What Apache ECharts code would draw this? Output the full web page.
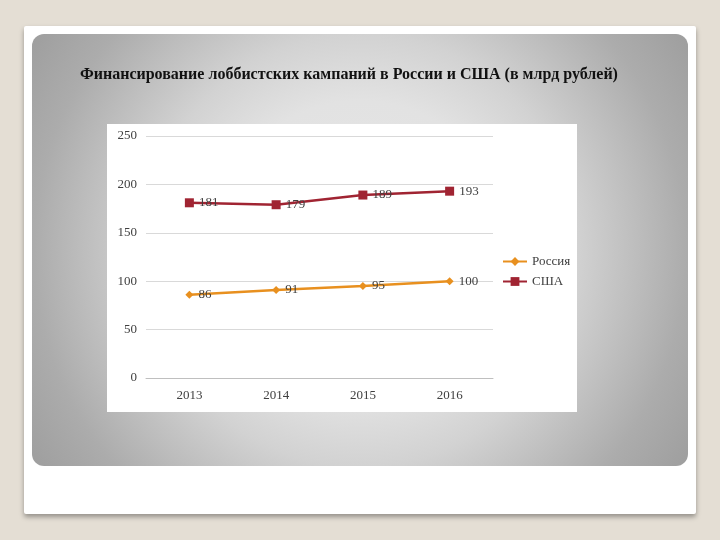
<!DOCTYPE html>
<html><head><meta charset="utf-8">
<script src="https://cdn.jsdelivr.net/npm/echarts@6/dist/echarts.min.js"></script>
<style>html,body{margin:0;padding:0;background:#e4ded4;}#c{width:720px;height:540px;}</style>
</head><body><div id="c"></div>
<script>
const titleText = 'Финансирование лоббистских кампаний в России и США (в млрд рублей)';
const years = ['2013', '2014', '2015', '2016'];
const russia = [86, 91, 95, 100];
const usa = [181, 179, 189, 193];
const seriesNames = ['Россия', 'США'];

const serif = '"Liberation Serif", "Times New Roman", serif';
const chart = echarts.init(document.getElementById('c'), null, {renderer: 'canvas'});
chart.setOption({
  backgroundColor: '#e4ded4',
  animation: false,
  title: {
    text: titleText,
    left: 75, top: 62,
    textStyle: {fontFamily: serif, fontWeight: 'bold', fontSize: 16, color: '#111'}
  },
  graphic: [
    {type: 'rect', z: -30, shape: {x: 24, y: 26, width: 672, height: 488, r: 2},
     style: {fill: '#ffffff', shadowBlur: 5, shadowOffsetY: 3, shadowColor: 'rgba(0,0,0,0.35)'}},
    {type: 'rect', z: -29, shape: {x: 32, y: 34, width: 656, height: 432, r: 12},
     style: {fill: {type: 'radial', x: 0.5, y: 0.5, r: 0.91, colorStops: [
       {offset: 0, color: '#e7e7e7'}, {offset: 0.38, color: '#e2e2e2'},
       {offset: 0.55, color: '#d2d2d2'}, {offset: 0.83, color: '#acacac'}, {offset: 1, color: '#9e9e9e'}]}}},
    {type: 'rect', z: -28, shape: {x: 107, y: 124, width: 470, height: 288},
     style: {fill: '#ffffff'}}
  ],
  legend: {
    orient: 'vertical', left: 497, top: 250, itemGap: 7,
    itemWidth: 24, itemHeight: 11,
    textStyle: {fontFamily: serif, fontSize: 13, color: '#404040'},
    data: seriesNames
  },
  grid: {left: 146, right: 227, top: 136, bottom: 162},
  xAxis: {
    type: 'category', data: years, boundaryGap: true,
    axisLine: {lineStyle: {color: '#bfbfbf', width: 1}},
    axisTick: {show: false},
    axisLabel: {fontFamily: serif, fontSize: 13, color: '#404040', margin: 11}
  },
  yAxis: {
    type: 'value', min: 0, max: 250, interval: 50,
    axisLine: {show: false}, axisTick: {show: false},
    axisLabel: {fontFamily: serif, fontSize: 13, color: '#404040', margin: 9},
    splitLine: {lineStyle: {color: '#d9d9d9', width: 1}}
  },
  series: [
    {name: seriesNames[0], type: 'line', data: russia, symbol: 'diamond', symbolSize: 8,
     itemStyle: {color: '#e8901f'}, lineStyle: {color: '#e8901f', width: 2.5},
     label: {show: true, position: 'right', distance: 5, fontFamily: serif, fontSize: 13, color: '#404040'}},
    {name: seriesNames[1], type: 'line', data: usa, symbol: 'rect', symbolSize: 9,
     itemStyle: {color: '#a02432'}, lineStyle: {color: '#a02432', width: 2.5},
     label: {show: true, position: 'right', distance: 5, fontFamily: serif, fontSize: 13, color: '#404040'}}
  ]
});
</script></body></html>
